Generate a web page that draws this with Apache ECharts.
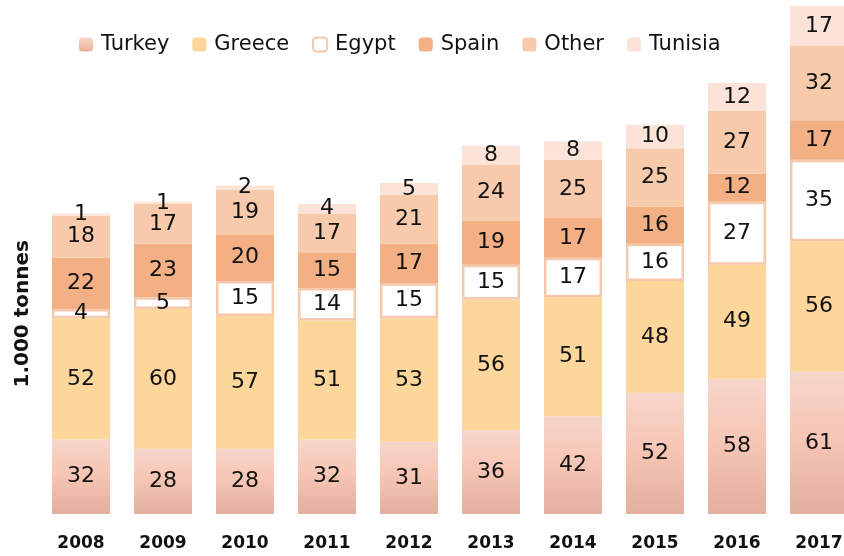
<!DOCTYPE html>
<html>
<head>
<meta charset="utf-8">
<script src="https://cdn.jsdelivr.net/npm/echarts@6/dist/echarts.min.js"></script>
<style>
  html, body { margin: 0; padding: 0; background: #fff; }
  #chart { width: 844px; height: 556px; }
</style>
</head>
<body>
<div id="chart"></div>
<script>
var years = ['2008', '2009', '2010', '2011', '2012', '2013', '2014', '2015', '2016', '2017'];
var turkey = [32, 28, 28, 32, 31, 36, 42, 52, 58, 61];
var greece = [52, 60, 57, 51, 53, 56, 51, 48, 49, 56];
var egypt = [4, 5, 15, 14, 15, 15, 17, 16, 27, 35];
var spain = [22, 23, 20, 15, 17, 19, 17, 16, 12, 17];
var other = [18, 17, 19, 17, 21, 24, 25, 25, 27, 32];
var tunisia = [1, 1, 2, 4, 5, 8, 8, 10, 12, 17];

var font = 'DejaVu Sans';
var chart = echarts.init(document.getElementById('chart'));

function mk(name, data, itemStyle) {
  return {
    name: name,
    type: 'bar',
    stack: 'total',
    barWidth: 58,
    data: data,
    itemStyle: itemStyle,
    label: {
      show: true,
      position: 'inside',
      color: '#111',
      fontFamily: font,
      fontSize: 22
    }
  };
}

// turkey bars fade from light pink down to a darker rose
var turkeyFill = new echarts.graphic.LinearGradient(0, 0, 0, 1, [
  { offset: 0, color: '#F7D6CB' },
  { offset: 0.45, color: '#F7C6B5' },
  { offset: 1, color: '#E3AF9E' }
]);

chart.setOption({
  animation: false,
  legend: {
    top: 29,
    left: 74,
    itemWidth: 14,
    itemHeight: 14,
    itemGap: 23,
    textStyle: { fontFamily: font, fontSize: 21, color: '#111', padding: [0, 0, 0, 3] },
    data: ['Turkey', 'Greece', 'Egypt', 'Spain', 'Other', 'Tunisia']
  },
  grid: { left: 40, top: 6, width: 820, bottom: 42, outerBoundsMode: 'none' },
  xAxis: {
    type: 'category',
    data: years,
    axisLine: { show: false },
    axisTick: { show: false },
    axisLabel: { fontFamily: font, fontSize: 17, fontWeight: 'bold', color: '#111', margin: 21 }
  },
  yAxis: {
    type: 'value',
    min: 0,
    max: 218,
    show: false
  },
  graphic: [{
    type: 'text',
    left: 13,
    top: 240,
    rotation: Math.PI / 2,
    style: {
      text: '1.000 tonnes',
      fontFamily: font,
      fontSize: 20,
      fontWeight: 'bold',
      fill: '#111'
    }
  }],
  series: [
    mk('Turkey', turkey, { color: turkeyFill }),
    mk('Greece', greece, { color: '#FDD69B' }),
    mk('Egypt', egypt, { color: '#ffffff', borderColor: '#F6C9AC', borderWidth: 2.5 }),
    mk('Spain', spain, { color: '#F3B084' }),
    mk('Other', other, { color: '#F7CAAC' }),
    mk('Tunisia', tunisia, { color: '#FBE4D7' })
  ]
});
</script>
</body>
</html>
